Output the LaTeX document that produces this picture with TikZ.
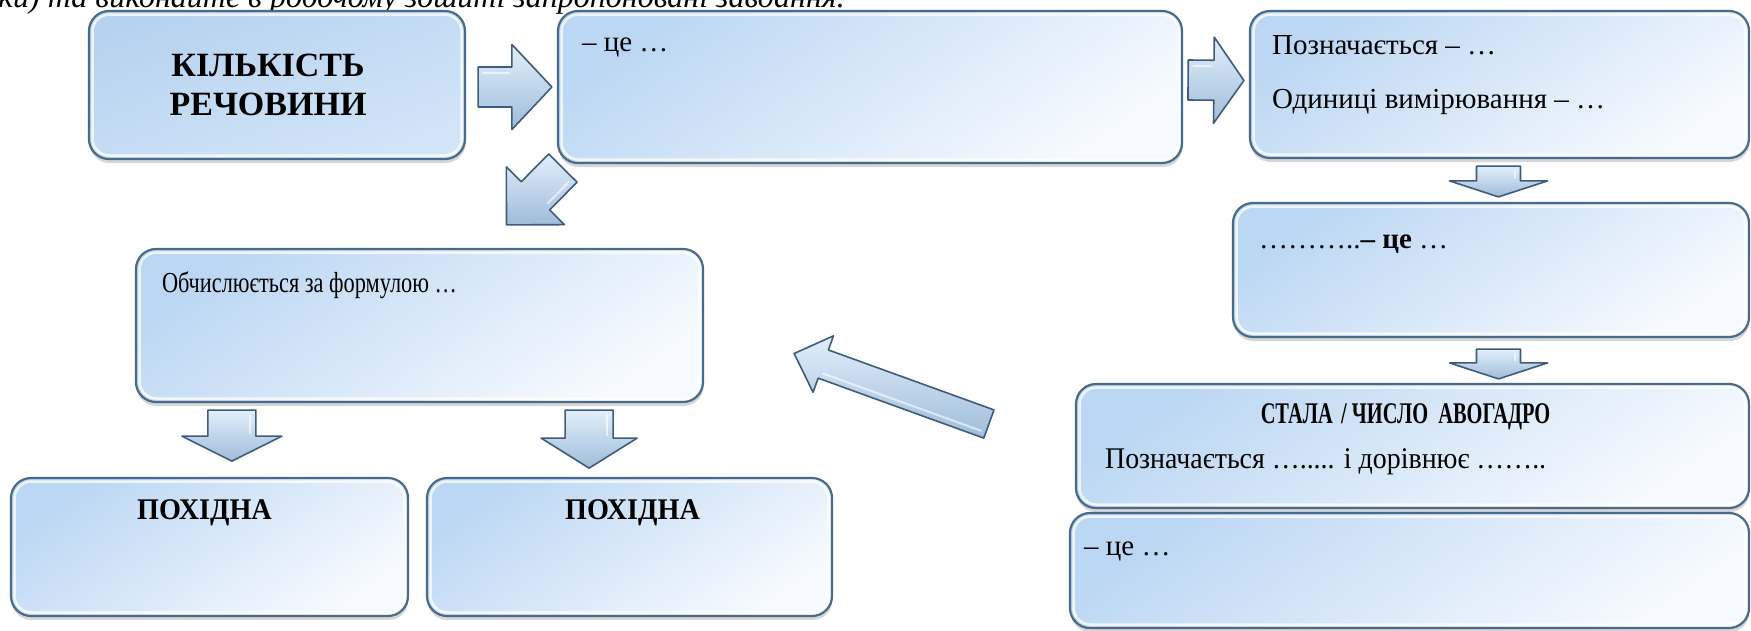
\documentclass[tikz,border=0pt]{standalone}
\usepackage{fontspec}
\setmainfont{Liberation Serif}
\usepackage{graphicx}
\usetikzlibrary{calc,shadows}

\definecolor{boxedge}{HTML}{4A6A8A}
\definecolor{boxtop}{HTML}{BCD7F3}
\definecolor{boxbot}{HTML}{F6FAFE}
\definecolor{keytop}{HTML}{B7D2EF}
\definecolor{keybot}{HTML}{D2E5F8}
\definecolor{arrowedge}{HTML}{3F5C78}
\definecolor{arrowlight}{HTML}{E2EFFB}
\definecolor{arrowdark}{HTML}{9FBCDA}

\tikzset{
  panel/.style={draw=boxedge, line width=2.2pt, rounded corners=20pt,
    top color=boxtop, bottom color=boxbot, shading angle=35, inner sep=0pt,
    drop shadow={opacity=0.32, shadow xshift=0.5pt, shadow yshift=-4pt},
    path picture={\draw[white, opacity=0.75, line width=2.5pt, rounded corners=17pt]
      ($(path picture bounding box.north west)+(3.5,3.5)$) rectangle
      ($(path picture bounding box.south east)+(-3.5,-3.5)$);}},
  keypanel/.style={panel, top color=keytop, bottom color=keybot, shading angle=20},
  arrowbody/.style={draw=arrowedge, line width=1.6pt, line join=round,
    top color=arrowlight, bottom color=arrowdark},
  pics/blockarrow/.style args={#1/#2/#3/#4}{code={
    \path[arrowbody] (0,-#2) -- ({#1-#4},-#2) -- ({#1-#4},-#3) -- (#1,0)
      -- ({#1-#4},#3) -- ({#1-#4},#2) -- (0,#2) -- cycle;
    \draw[white, opacity=0.6, line width=2pt, line cap=round]
      (5,{-#2+6}) -- ({#1-#4-3},{-#2+6});
  }},
  body/.style={inner sep=0pt, font=\fontsize{29}{34}\selectfont},
  heading/.style={inner sep=0pt, font=\bfseries\fontsize{34}{39}\selectfont, align=center},
}

% block arrow from one point to another: start, end, half shaft, half head, head length
\newcommand\linkarrow[5]{%
  \path let \p1=#1, \p2=#2,
        \n1={atan2(\y2-\y1,\x2-\x1)},
        \n2={veclen(\x2-\x1,\y2-\y1)} in
    (\p1) pic[rotate=\n1] {blockarrow={\n2/#3/#4/#5}};}

\begin{document}
\begin{tikzpicture}[x=1pt, y=-1pt]
\useasboundingbox (0,0) rectangle (1751,630);
\fill[white] (0,0) rectangle (1751,630);
\clip (0,0) rectangle (1751,630);

% instruction line above the scheme
\node[anchor=base east, inner sep=0pt, font=\itshape\fontsize{32}{38}\selectfont] (task)
  at (845,7) {ки) та виконайте в робочому зошиті запропоновані завдання.};

% panels
\node[keypanel, minimum width=376pt, minimum height=148pt] (A) at (277,85) {};
\node[panel, minimum width=624pt, minimum height=152pt] (B) at (870,87) {};
\node[panel, minimum width=499pt, minimum height=147pt] (C) at (1499.5,84.5) {};
\node[panel, minimum width=516pt, minimum height=134pt] (D) at (1491,270) {};
\node[panel, minimum width=673pt, minimum height=124pt] (E) at (1412.5,446) {};
\node[panel, minimum width=679pt, minimum height=115pt] (F) at (1409.5,570.5) {};
\node[panel, minimum width=567pt, minimum height=153pt] (G) at (419.5,325.5) {};
\node[panel, minimum width=397pt, minimum height=138pt] (H1) at (209.5,547) {};
\node[panel, minimum width=405pt, minimum height=138pt] (H2) at (629.5,547) {};

% texts
\node[heading] (At) at ($(A.center)+(-9,0)$) {КІЛЬКІСТЬ\\РЕЧОВИНИ};
\node[body, anchor=base west] (Bt) at ($(B.north west)+(25,42)$) {– це …};
\node[body, anchor=base west] (Ct1) at ($(C.north west)+(23,45)$) {Позначається – …};
\node[body, anchor=base west] (Ct2) at ($(C.north west)+(23,99)$) {Одиниці вимірювання – …};
\node[body, anchor=base west] (Dt) at ($(D.north west)+(27,47)$) {………..\textbf{– це} …};
\node[body, anchor=base, font=\bfseries\fontsize{30}{36}\selectfont] (Et1)
  at ($(E.north)+(-7,41)$) {\scalebox{0.68}[1]{СТАЛА \,/ ЧИСЛО \ АВОГАДРО}};
\node[body, anchor=base west, font=\fontsize{30}{36}\selectfont] (Et2)
  at ($(E.north west)+(30,86)$) {\scalebox{0.93}[1]{Позначається …..... і дорівнює ……..}};
\node[body, anchor=base west] (Ft) at ($(F.north west)+(15,44)$) {– це …};
\node[body, anchor=base west] (Gt) at ($(G.north west)+(27,45)$)
  {\scalebox{0.77}[1]{Обчислюється за формулою …}};
\node[body, anchor=base, font=\bfseries\fontsize{30}{36}\selectfont] (H1t)
  at ($(H1.north)+(-5,43)$) {\scalebox{0.94}[1]{ПОХІДНА}};
\node[body, anchor=base, font=\bfseries\fontsize{30}{36}\selectfont] (H2t)
  at ($(H2.north)+(3,43)$) {\scalebox{0.94}[1]{ПОХІДНА}};

% block arrows
\linkarrow{($(A.east)+(12,2)$)}{($(B.west)+(-5,0)$)}{20}{42.5}{40}
\linkarrow{($(B.east)+(5,-7)$)}{($(C.west)+(-5,-4)$)}{20}{43}{30}
\linkarrow{($(C.south)+(-1,7)$)}{($(C.south |- D.north)+(-1,-5)$)}{22}{49}{16}
\linkarrow{($(C.south |- D.south)+(-1,11)$)}{($(C.south |- E.north)+(-1,-4)$)}{22}{49}{16}
\linkarrow{($(B.south west)+(6,4)$)}{($(G.north)+(87,-23)$)}{20}{41}{41}
\linkarrow{($(E.west)+(-86,-22)$)}{($(G.east)+(90,28)$)}{15}{30}{31}
\linkarrow{($(G.south west)+(97,7)$)}{($(G.south west)+(97,58)$)}{24}{50}{25}
\linkarrow{($(G.south east)+(-115,7)$)}{($(G.south east)+(-115,65)$)}{24}{48}{30}
\end{tikzpicture}
\end{document}
